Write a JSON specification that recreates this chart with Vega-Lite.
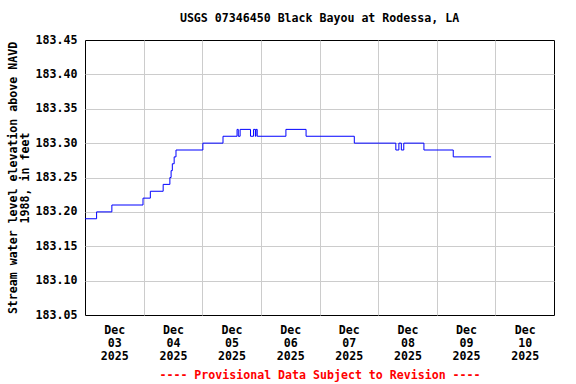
{
  "$schema": "https://vega.github.io/schema/vega-lite/v6.json",
  "width": 469,
  "height": 275,
  "autosize": {"type": "none"},
  "padding": {"left": 85, "top": 40, "right": 22, "bottom": 69},
  "background": "#ffffff",
  "title": {
    "text": "USGS 07346450 Black Bayou at Rodessa, LA",
    "font": "DejaVu Sans Mono",
    "fontSize": 11.6,
    "fontWeight": "bold",
    "color": "#000000",
    "offset": 9
  },
  "data": {
    "values": [
      {"time": "2025-12-03T00:00", "value": 183.19},
      {"time": "2025-12-03T04:45", "value": 183.20},
      {"time": "2025-12-03T11:00", "value": 183.21},
      {"time": "2025-12-03T23:45", "value": 183.22},
      {"time": "2025-12-04T02:45", "value": 183.23},
      {"time": "2025-12-04T08:00", "value": 183.24},
      {"time": "2025-12-04T10:45", "value": 183.25},
      {"time": "2025-12-04T11:15", "value": 183.26},
      {"time": "2025-12-04T11:45", "value": 183.27},
      {"time": "2025-12-04T12:30", "value": 183.28},
      {"time": "2025-12-04T13:15", "value": 183.29},
      {"time": "2025-12-05T00:15", "value": 183.30},
      {"time": "2025-12-05T08:30", "value": 183.31},
      {"time": "2025-12-05T14:15", "value": 183.32},
      {"time": "2025-12-05T14:45", "value": 183.31},
      {"time": "2025-12-05T15:30", "value": 183.32},
      {"time": "2025-12-05T19:45", "value": 183.31},
      {"time": "2025-12-05T21:00", "value": 183.32},
      {"time": "2025-12-05T21:45", "value": 183.31},
      {"time": "2025-12-05T22:00", "value": 183.32},
      {"time": "2025-12-05T22:30", "value": 183.31},
      {"time": "2025-12-06T10:15", "value": 183.32},
      {"time": "2025-12-06T18:30", "value": 183.31},
      {"time": "2025-12-07T14:15", "value": 183.30},
      {"time": "2025-12-08T07:15", "value": 183.29},
      {"time": "2025-12-08T08:30", "value": 183.30},
      {"time": "2025-12-08T09:30", "value": 183.29},
      {"time": "2025-12-08T10:30", "value": 183.30},
      {"time": "2025-12-08T18:45", "value": 183.29},
      {"time": "2025-12-09T06:45", "value": 183.28},
      {"time": "2025-12-09T22:15", "value": 183.28}
    ]
  },
  "mark": {"type": "line", "color": "#0000ff", "strokeWidth": 1, "interpolate": "step-after", "clip": true},
  "encoding": {
    "x": {
      "field": "time",
      "type": "temporal",
      "scale": {"domain": [{"year": 2025, "month": 12, "date": 3}, {"year": 2025, "month": 12, "date": 11}]},
      "axis": {
        "values": [
          {"year": 2025, "month": 12, "date": 3},
          {"year": 2025, "month": 12, "date": 4},
          {"year": 2025, "month": 12, "date": 5},
          {"year": 2025, "month": 12, "date": 6},
          {"year": 2025, "month": 12, "date": 7},
          {"year": 2025, "month": 12, "date": 8},
          {"year": 2025, "month": 12, "date": 9},
          {"year": 2025, "month": 12, "date": 10}
        ],
        "labelExpr": "[timeFormat(datum.value, '%b'), timeFormat(datum.value, '%d'), timeFormat(datum.value, '%Y')]",
        "labelOffset": 29.3,
        "labelPadding": 9,
        "labelLineHeight": 13,
        "labelFlush": false,
        "labelOverlap": false,
        "ticks": false,
        "domain": false,
        "grid": true,
        "gridColor": {
          "condition": {"test": "+datum.value <= +datetime(2025, 11, 3)", "value": "transparent"},
          "value": "#cccccc"
        },
        "title": "---- Provisional Data Subject to Revision ----",
        "titleColor": "#ff0000",
        "titlePadding": 8
      }
    },
    "y": {
      "field": "value",
      "type": "quantitative",
      "scale": {"domain": [183.05, 183.45], "zero": false, "nice": false},
      "axis": {
        "values": [183.05, 183.10, 183.15, 183.20, 183.25, 183.30, 183.35, 183.40, 183.45],
        "format": ".2f",
        "labelPadding": 8,
        "ticks": false,
        "domain": false,
        "grid": true,
        "gridColor": {
          "condition": {"test": "datum.value < 183.06 || datum.value > 183.44", "value": "transparent"},
          "value": "#cccccc"
        },
        "title": ["Stream water level elevation above NAVD", "1988, in feet"],
        "titlePadding": 5,
        "titleLineHeight": 12
      }
    }
  },
  "config": {
    "view": {"stroke": "#000000", "strokeWidth": 1},
    "axis": {
      "labelFont": "DejaVu Sans Mono",
      "labelFontSize": 11.6,
      "labelFontWeight": "bold",
      "labelColor": "#000000",
      "titleFont": "DejaVu Sans Mono",
      "titleFontSize": 11.6,
      "titleFontWeight": "bold",
      "titleColor": "#000000",
      "gridWidth": 1,
      "gridOpacity": 1
    }
  }
}
